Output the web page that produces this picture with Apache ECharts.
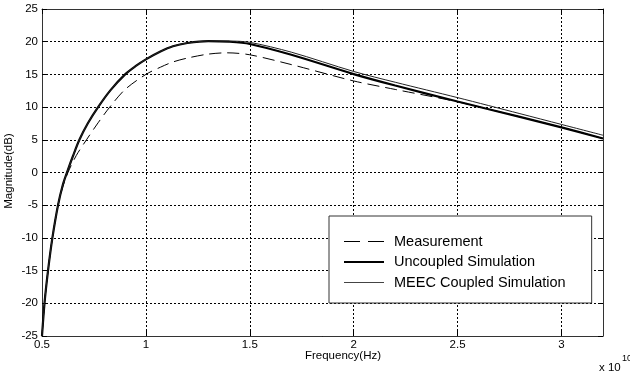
<!DOCTYPE html>
<html><head><meta charset="utf-8">
<script src="https://cdn.jsdelivr.net/npm/echarts@6/dist/echarts.min.js"></script>
<style>html,body{margin:0;padding:0;background:#fff}#c{width:630px;height:377px}</style>
</head><body><div id="c"></div>
<script>
// Frequency in units of 1e10 Hz, magnitude in dB
const freqMeasured   = [0.5, 0.512, 0.529, 0.55, 0.577, 0.6, 0.625, 0.665, 0.714, 0.77, 0.826, 0.9, 1.0, 1.07, 1.13, 1.2, 1.3, 1.39, 1.5, 1.7, 2.0, 2.2, 2.5, 2.8, 3.0, 3.2];
const magMeasured    = [-25, -20, -15, -10, -5, -2.2, 0, 2.6, 5, 7.6, 10, 12.7, 15, 16.1, 16.9, 17.5, 18.1, 18.3, 18.0, 16.5, 14.0, 12.7, 10.8, 8.5, 6.9, 5.2];
const freqUncoupled  = [0.5, 0.512, 0.529, 0.55, 0.577, 0.6, 0.62, 0.65, 0.68, 0.72, 0.77, 0.83, 0.9, 0.95, 1.0, 1.07, 1.13, 1.2, 1.3, 1.4, 1.5, 1.7, 2.0, 2.2, 2.5, 2.8, 3.0, 3.2];
const magUncoupled   = [-25, -20, -15, -10, -5, -1.9, 0, 2.6, 5, 7.5, 10, 12.6, 15, 16.25, 17.3, 18.5, 19.3, 19.8, 20.1, 20.0, 19.65, 18.0, 15.05, 13.3, 10.85, 8.5, 6.9, 5.2];
const freqCoupled    = [0.5, 0.512, 0.529, 0.55, 0.577, 0.6, 0.62, 0.65, 0.68, 0.72, 0.77, 0.83, 0.9, 0.95, 1.0, 1.07, 1.13, 1.2, 1.3, 1.4, 1.5, 1.7, 2.0, 2.2, 2.5, 2.8, 3.0, 3.2];
const magCoupled     = [-25, -20, -15, -10, -5, -1.9, 0, 2.6, 5, 7.5, 10, 12.6, 15, 16.25, 17.3, 18.5, 19.3, 19.8, 20.1, 20.1, 19.9, 18.4, 15.45, 13.8, 11.45, 9.0, 7.35, 5.7];
const seriesNames    = ['Measurement', 'Uncoupled Simulation', 'MEEC Coupled Simulation'];
const xLabel = 'Frequency(Hz)';
const yLabel = 'Magnitude(dB)';

const zip = (a, b) => a.map((v, i) => [v, b[i]]);
const FONT = 'Liberation Sans, Arial, Helvetica, sans-serif';
const gridLine = {show: true, lineStyle: {color: '#000', width: 1, type: [2, 2]}};
const axLine = {show: true, onZero: false, lineStyle: {color: '#333', width: 1}};
const tick = {show: true, inside: true, length: 5, lineStyle: {color: '#000'}};

const chart = echarts.init(document.getElementById('c'), null, {renderer: 'canvas'});
chart.setOption({
  animation: false,
  backgroundColor: '#fff',
  grid: {left: 42, right: 27, top: 9, bottom: 41, containLabel: false, outerBoundsMode: 'none'},
  xAxis: [
    {type: 'value', min: 0.5, max: 3.2, interval: 0.5, position: 'bottom',
     axisLine: axLine, axisTick: tick, splitLine: gridLine,
     axisLabel: {showMaxLabel: false, color: '#000', fontSize: 11.5, fontFamily: FONT, margin: 3}},
    {type: 'value', min: 0.5, max: 3.2, interval: 0.5, position: 'top',
     axisLine: axLine, axisTick: tick, splitLine: {show: false}, axisLabel: {show: false}}
  ],
  yAxis: [
    {type: 'value', min: -25, max: 25, interval: 5, position: 'left',
     axisLine: axLine, axisTick: tick, splitLine: gridLine,
     axisLabel: {color: '#000', fontSize: 11.5, fontFamily: FONT, margin: 4}},
    {type: 'value', min: -25, max: 25, interval: 5, position: 'right',
     axisLine: axLine, axisTick: tick, splitLine: {show: false}, axisLabel: {show: false}}
  ],
  legend: {
    orient: 'vertical', left: 329, top: 216,
    padding: [18, 26, 13, 14], itemWidth: 40, itemHeight: 14, itemGap: 5.5,
    backgroundColor: '#fff', borderColor: '#333', borderWidth: 1, borderRadius: 0,
    itemStyle: {opacity: 0},
    textStyle: {fontSize: 14.5, color: '#000', fontFamily: FONT, padding: [0, 0, 0, 5]},
    data: [
      {name: seriesNames[0], lineStyle: {type: [16, 8], width: 1, color: '#000'}},
      {name: seriesNames[1], lineStyle: {width: 2, color: '#000'}},
      {name: seriesNames[2], lineStyle: {width: 1, color: '#444'}}
    ]
  },
  series: [
    {name: seriesNames[0], type: 'line', data: zip(freqMeasured, magMeasured), symbol: 'none', showSymbol: false, smooth: 0.3,
     lineStyle: {color: '#000', width: 1, type: [12, 6]}, itemStyle: {color: '#000'}, z: 3},
    {name: seriesNames[1], type: 'line', data: zip(freqUncoupled, magUncoupled), symbol: 'none', showSymbol: false, smooth: 0.3,
     lineStyle: {color: '#000', width: 2.2}, itemStyle: {color: '#000'}, z: 2},
    {name: seriesNames[2], type: 'line', data: zip(freqCoupled, magCoupled), symbol: 'none', showSymbol: false, smooth: 0.3,
     lineStyle: {color: '#222', width: 1}, itemStyle: {color: '#222'}, z: 4}
  ],
  graphic: [
    {type: 'text', x: 343, y: 356, style: {text: xLabel, fill: '#000', font: '11.5px ' + FONT, textAlign: 'center', textVerticalAlign: 'middle'}},
    {type: 'text', x: 9, y: 171, rotation: Math.PI / 2, style: {text: yLabel, fill: '#000', font: '11.5px ' + FONT, textAlign: 'center', textVerticalAlign: 'middle'}},
    {type: 'text', x: 599, y: 368, style: {text: 'x 10', fill: '#000', font: '11.5px ' + FONT, textAlign: 'left', textVerticalAlign: 'middle'}},
    {type: 'text', x: 622, y: 359, style: {text: '10', fill: '#000', font: '9px ' + FONT, textAlign: 'left', textVerticalAlign: 'middle'}}
  ]
});
</script></body></html>
